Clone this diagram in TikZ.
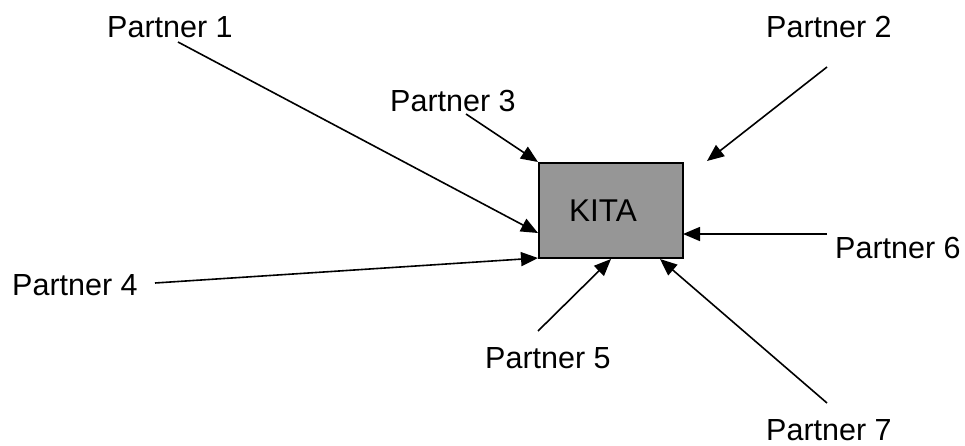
\documentclass[tikz,border=0pt]{standalone}
\usepackage{fontspec}
\setmainfont{Liberation Sans}
\usetikzlibrary{arrows.meta}
\definecolor{boxgray}{RGB}{150,150,150}
\begin{document}
\begin{tikzpicture}[x=1pt,y=-1pt,
  lbl/.style={anchor=base west,inner sep=0pt,font=\fontsize{30.5}{36}\selectfont},
  link/.style={line width=1.6pt,-{Triangle[length=17pt,width=14pt]}},
  kitabox/.style={draw,line width=2pt,fill=boxgray,minimum width=144pt,minimum height=95pt,inner sep=0pt}]
\useasboundingbox (0,0) rectangle (965,445);

% central box
\node[kitabox] (kita) at (611,210.5) {};
\node[lbl,font=\fontsize{31.5}{36}\selectfont] (kitatext) at (569,221) {KITA};

% partner labels
\node[lbl] (p1) at (107,37) {Partner 1};
\node[lbl] (p2) at (766,37) {Partner 2};
\node[lbl] (p3) at (390,111) {Partner 3};
\node[lbl] (p4) at (12,295) {Partner 4};
\node[lbl] (p5) at (485,368) {Partner 5};
\node[lbl] (p6) at (835,258) {Partner 6};
\node[lbl] (p7) at (766,440) {Partner 7};

% connector ends
\coordinate (s1) at (178,42);   \coordinate (e1) at (538,233);
\coordinate (s2) at (827,67);   \coordinate (e2) at (707,161);
\coordinate (s3) at (466,114);  \coordinate (e3) at (538,162);
\coordinate (s4) at (155,283);  \coordinate (e4) at (538,258);
\coordinate (s5) at (538,331);  \coordinate (e5) at (611,259);
\coordinate (s6) at (827,234);  \coordinate (e6) at (683,234);
\coordinate (s7) at (827,403);  \coordinate (e7) at (660,259);

\draw[link] (s1) -- (e1);
\draw[link] (s2) -- (e2);
\draw[link] (s3) -- (e3);
\draw[link] (s4) -- (e4);
\draw[link] (s5) -- (e5);
\draw[link] (s6) -- (e6);
\draw[link] (s7) -- (e7);
\end{tikzpicture}
\end{document}
